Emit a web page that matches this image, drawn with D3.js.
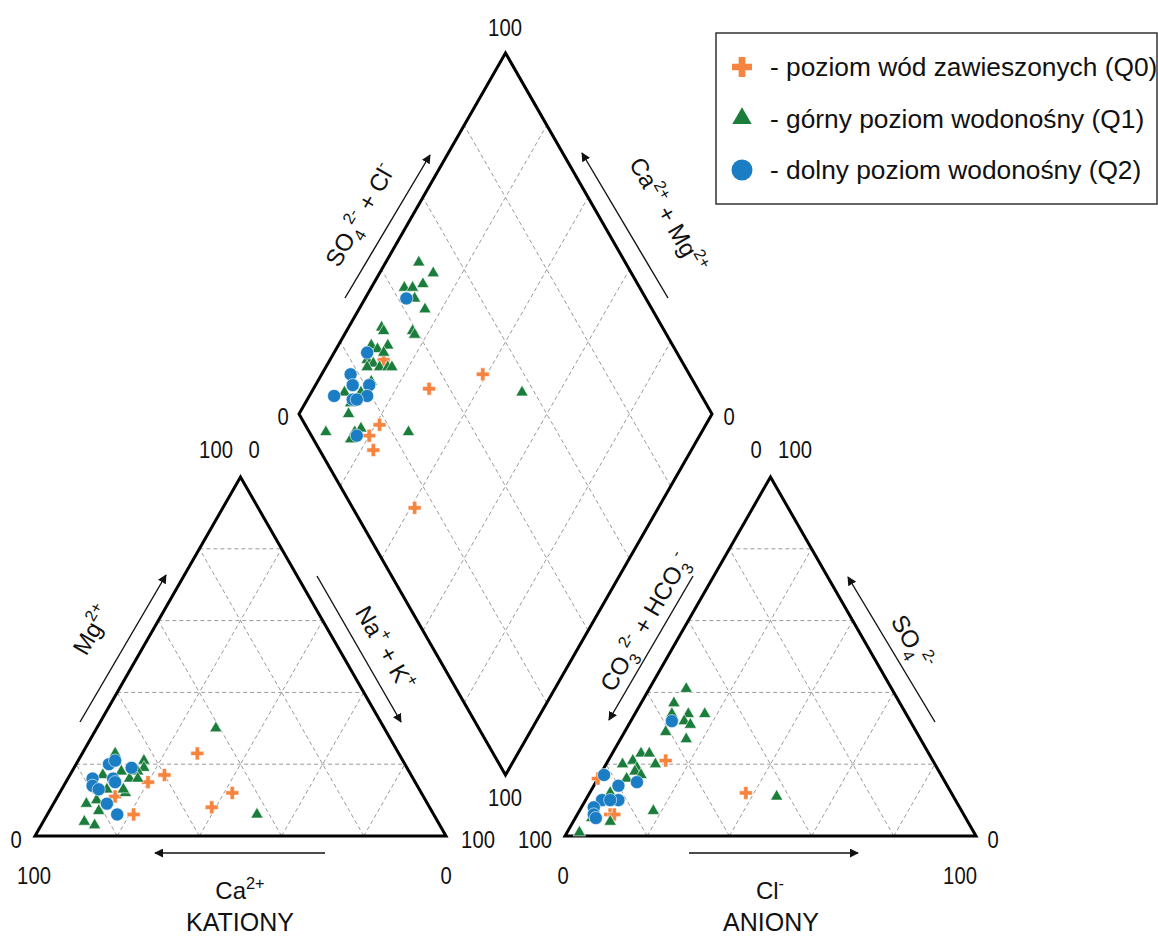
<!DOCTYPE html>
<html>
<head>
<meta charset="utf-8">
<script src="https://cdn.jsdelivr.net/npm/d3@7"></script>
<style>
  body { margin: 0; background: #fff; }
  svg { display: block; }
  text { font-family: "Liberation Sans", Arial, Helvetica, sans-serif; fill: #111; }
</style>
</head>
<body>
<svg id="chart" width="1158" height="937"></svg>
<script>
// ---- data -------------------------------------------------------------
// Cation triangle: [Mg2+ %, Na+ + K+ %]   (Ca2+ = 100 - Mg - NaK)
const cationsQ0 = [[23,28],[17,23],[15,20],[11,14],[12,42],[8,39],[6,21]];
const cationsQ1 = [[30,29],[6,51],[23,8],[21,16],[19,17],[18,16],[18,12],[16,15],[16,17],
                   [12,16],[9,8],[7,12],[4,10],[3,13],[17,8],[10,10],[6,17],[13,11],[13,15]];
const cationsQ2 = [[20,8],[21,9],[19,14],[16,6],[14,7],[16,11],[15,12],[13,9],[9,13],[6,17]];

// Anion triangle: [SO4 2- %, Cl- %]   (CO3 + HCO3 = 100 - SO4 - Cl)
const anionsQ0 = [[21,14],[16,0],[12,38],[6,8],[6,9]];
const anionsQ1 = [[41,9],[37,8],[34,9],[34,13],[34,17],[32,13],[31,15],[29,10],[27,16],[23,7],
                  [23,9],[20,4],[21,6],[19,8],[20,12],[18,8],[17,10],[16,7],[12,5],[7,18],
                  [11,46],[4,9],[5,4],[1,3]];
const anionsQ2 = [[32,10],[17,1],[15,10],[14,6],[10,4],[10,8],[10,6],[8,3],[6,4],[5,5]];

// Diamond: [Ca2+ + Mg2+ %, SO4 2- + Cl- %]
const diamondQ0 = [[87,28],[61,50],[72,35],[79,18],[80,14],[77,13],[59,15]];
const diamondQ1 = [[92,50],[87,52],[92,43],[90,45],[88,48],[88,44],[84,45],[92,32],[91,32],
                   [84,39],[83,39],[92,27],[90,28],[88,31],[88,29],[91,24],[89,25],[90,23],
                   [87,26],[85,28],[84,29],[87,22],[92,14],[88,18],[89,14],[88,12],[91,4],
                   [84,9],[83,13],[84,11],[71,24],[49,57]];
const diamondQ2 = [[90,42],[92,25],[93,18],[91,17],[94,11],[87,21],[86,19],[89,15],[88,16],[83,11]];

const gridSteps = [20, 40, 60, 80];
const legendLabels = ["- poziom wód zawieszonych (Q0)",
                      "- górny poziom wodonośny (Q1)",
                      "- dolny poziom wodonośny (Q2)"];
const groupColors = ["#F7843E", "#1B7D3B", "#1B7DC3"];

// ---- scales -----------------------------------------------------------
const svg = d3.select("#chart");
const leftX  = d3.scaleLinear().domain([0, 100]).range([35, 446]);
const rightX = d3.scaleLinear().domain([0, 100]).range([565, 976]);
const triY   = d3.scaleLinear().domain([0, 100]).range([836, 477]);
// diamond: horizontal = (SO4+Cl) - (Ca+Mg), vertical = (SO4+Cl) + (Ca+Mg)
const diaX = d3.scaleLinear().domain([-100, 100]).range([299, 712]);
const diaY = d3.scaleLinear().domain([0, 200]).range([775, 53]);

// ternary position: apex share and bottom-right share
const triPos = (xs, apex, br) => [xs(br + apex / 2), triY(apex)];
const diaPos = (camg, scl) => [diaX(scl - camg), diaY(scl + camg)];

const line = d3.line();

// ---- arrow marker -----------------------------------------------------
svg.append("defs").append("marker")
  .attr("id", "arrow").attr("viewBox", "0 0 10 10")
  .attr("refX", 9).attr("refY", 5)
  .attr("markerWidth", 9).attr("markerHeight", 9)
  .attr("markerUnits", "userSpaceOnUse")
  .attr("orient", "auto")
  .append("path").attr("d", "M0,0 L10,5 L0,10 Z").attr("fill", "#111");

const gridG = svg.append("g")
  .attr("fill", "none").attr("stroke", "#9a9a9a")
  .attr("stroke-width", 1).attr("stroke-dasharray", "4,3");

// ---- triangles --------------------------------------------------------
function drawTriangle(xs) {
  gridSteps.forEach(k => {
    gridG.append("path").attr("d", line([triPos(xs, k, 0), triPos(xs, k, 100 - k)]));
    gridG.append("path").attr("d", line([triPos(xs, 0, k), triPos(xs, 100 - k, k)]));
    gridG.append("path").attr("d", line([triPos(xs, 0, 100 - k), triPos(xs, 100 - k, 0)]));
  });
  svg.append("path")
    .attr("d", line([triPos(xs, 0, 0), triPos(xs, 0, 100), triPos(xs, 100, 0)]) + "Z")
    .attr("fill", "none").attr("stroke", "#000").attr("stroke-width", 3)
    .attr("stroke-linejoin", "miter");
}
drawTriangle(leftX);
drawTriangle(rightX);

// ---- diamond ----------------------------------------------------------
gridSteps.forEach(k => {
  gridG.append("path").attr("d", line([diaPos(k, 0), diaPos(k, 100)]));
  gridG.append("path").attr("d", line([diaPos(0, k), diaPos(100, k)]));
});
svg.append("path")
  .attr("d", line([diaPos(0, 0), diaPos(100, 0), diaPos(100, 100), diaPos(0, 100)]) + "Z")
  .attr("fill", "none").attr("stroke", "#000").attr("stroke-width", 3);

// ---- arrows -----------------------------------------------------------
const arrows = [
  [[80, 722], [166, 575]],   // Mg
  [[317, 576], [401, 722]],  // Na + K
  [[325, 853], [155, 853]],  // Ca
  [[693, 576], [609, 720]],  // CO3 + HCO3
  [[935, 722], [848, 577]],  // SO4
  [[689, 853], [858, 853]],  // Cl
  [[345, 298], [430, 155]],  // SO4 + Cl
  [[668, 298], [582, 153]]   // Ca + Mg
];
svg.append("g").selectAll("path").data(arrows).join("path")
  .attr("d", d => line(d))
  .attr("stroke", "#111").attr("stroke-width", 1.4).attr("fill", "none")
  .attr("marker-end", "url(#arrow)");

// ---- text helpers -----------------------------------------------------
function richText(parent, parts, size) {
  const t = parent.append("text").attr("font-size", size);
  let shift = 0;
  parts.forEach(p => {
    const target = p.sub ? size * 0.3 : p.sup ? -size * 0.45 : 0;
    t.append("tspan")
      .attr("dy", target - shift)
      .attr("font-size", (p.sub || p.sup) ? size * 0.68 : size)
      .text(p.t);
    shift = target;
  });
  return t;
}
function label(x, y, angle, parts, size) {
  const g = svg.append("g").attr("transform", `translate(${x},${y}) rotate(${angle})`);
  richText(g, parts, size).attr("text-anchor", "middle").attr("y", size * 0.35);
  return g;
}

const numLabels = [
  ["100", 216, 458], ["0", 254, 458], ["0", 756, 458], ["100", 795, 458],
  ["0", 16, 848], ["100", 478, 848], ["100", 535, 848], ["0", 993, 848],
  ["100", 34, 884], ["0", 446, 884], ["0", 563, 884], ["100", 960, 884],
  ["100", 505, 36], ["0", 283, 425], ["0", 729, 425], ["100", 505, 806]
];
// narrow-set numerals
svg.append("g").selectAll("text").data(numLabels).join("text")
  .attr("transform", d => `translate(${d[1]},${d[2]}) scale(0.88,1)`)
  .attr("text-anchor", "middle").attr("font-size", 23)
  .text(d => d[0]);

label(92, 630, -60, [{t: "Mg"}, {t: "2+", sup: true}], 24);
label(385, 648, 60, [{t: "Na"}, {t: "+", sup: true}, {t: " + K"}, {t: "+", sup: true}], 24);
label(645, 622, -60, [{t: "CO"}, {t: "3", sub: true}, {t: "2-", sup: true}, {t: " + HCO"}, {t: "3", sub: true}, {t: "-", sup: true}], 24);
label(912, 642, 60, [{t: "SO"}, {t: "4", sub: true}, {t: "2-", sup: true}], 24);
label(360, 215, -60, [{t: "SO"}, {t: "4", sub: true}, {t: "2-", sup: true}, {t: " + Cl"}, {t: "-", sup: true}], 24);
label(668, 215, 60, [{t: "Ca"}, {t: "2+", sup: true}, {t: " + Mg"}, {t: "2+", sup: true}], 24);
label(240, 891, 0, [{t: "Ca"}, {t: "2+", sup: true}], 24);
label(770, 891, 0, [{t: "Cl"}, {t: "-", sup: true}], 24);

svg.append("text").attr("x", 240).attr("y", 931).attr("text-anchor", "middle")
  .attr("font-size", 25).text("KATIONY");
svg.append("text").attr("x", 771).attr("y", 931).attr("text-anchor", "middle")
  .attr("font-size", 25).text("ANIONY");

// ---- sample markers ---------------------------------------------------
const symbols = [d3.symbolCross, d3.symbolTriangle, d3.symbolCircle];
const sizes = [94, 66, 135];
const markG = svg.append("g");
function plot(points, group) {
  markG.append("g").selectAll("path").data(points).join("path")
    .attr("transform", d => `translate(${d[0]},${d[1]})`)
    .attr("d", d3.symbol(symbols[group], sizes[group]))
    .attr("fill", groupColors[group])
    .attr("stroke", "#fff").attr("stroke-width", 0.6);
}
const cationSets = [cationsQ0, cationsQ1, cationsQ2];
const anionSets = [anionsQ0, anionsQ1, anionsQ2];
const diamondSets = [diamondQ0, diamondQ1, diamondQ2];
[0, 1, 2].forEach(g => {
  plot(cationSets[g].map(d => triPos(leftX, d[0], d[1])), g);
  plot(anionSets[g].map(d => triPos(rightX, d[0], d[1])), g);
  plot(diamondSets[g].map(d => diaPos(d[0], d[1])), g);
});

// ---- legend -----------------------------------------------------------
const legend = svg.append("g");
legend.append("rect").attr("x", 716).attr("y", 33).attr("width", 441).attr("height", 171)
  .attr("fill", "#fff").attr("stroke", "#333").attr("stroke-width", 1.5);
const legendSizes = [222, 163, 346];
legendLabels.forEach((txt, i) => {
  const cy = 67 + i * 51.5;
  legend.append("path").attr("transform", `translate(742,${cy})`)
    .attr("d", d3.symbol(symbols[i], legendSizes[i]))
    .attr("fill", groupColors[i]);
  legend.append("text").attr("x", 770).attr("y", cy).attr("dy", "0.35em")
    .attr("font-size", 26.3).text(txt);
});
</script>
</body>
</html>
